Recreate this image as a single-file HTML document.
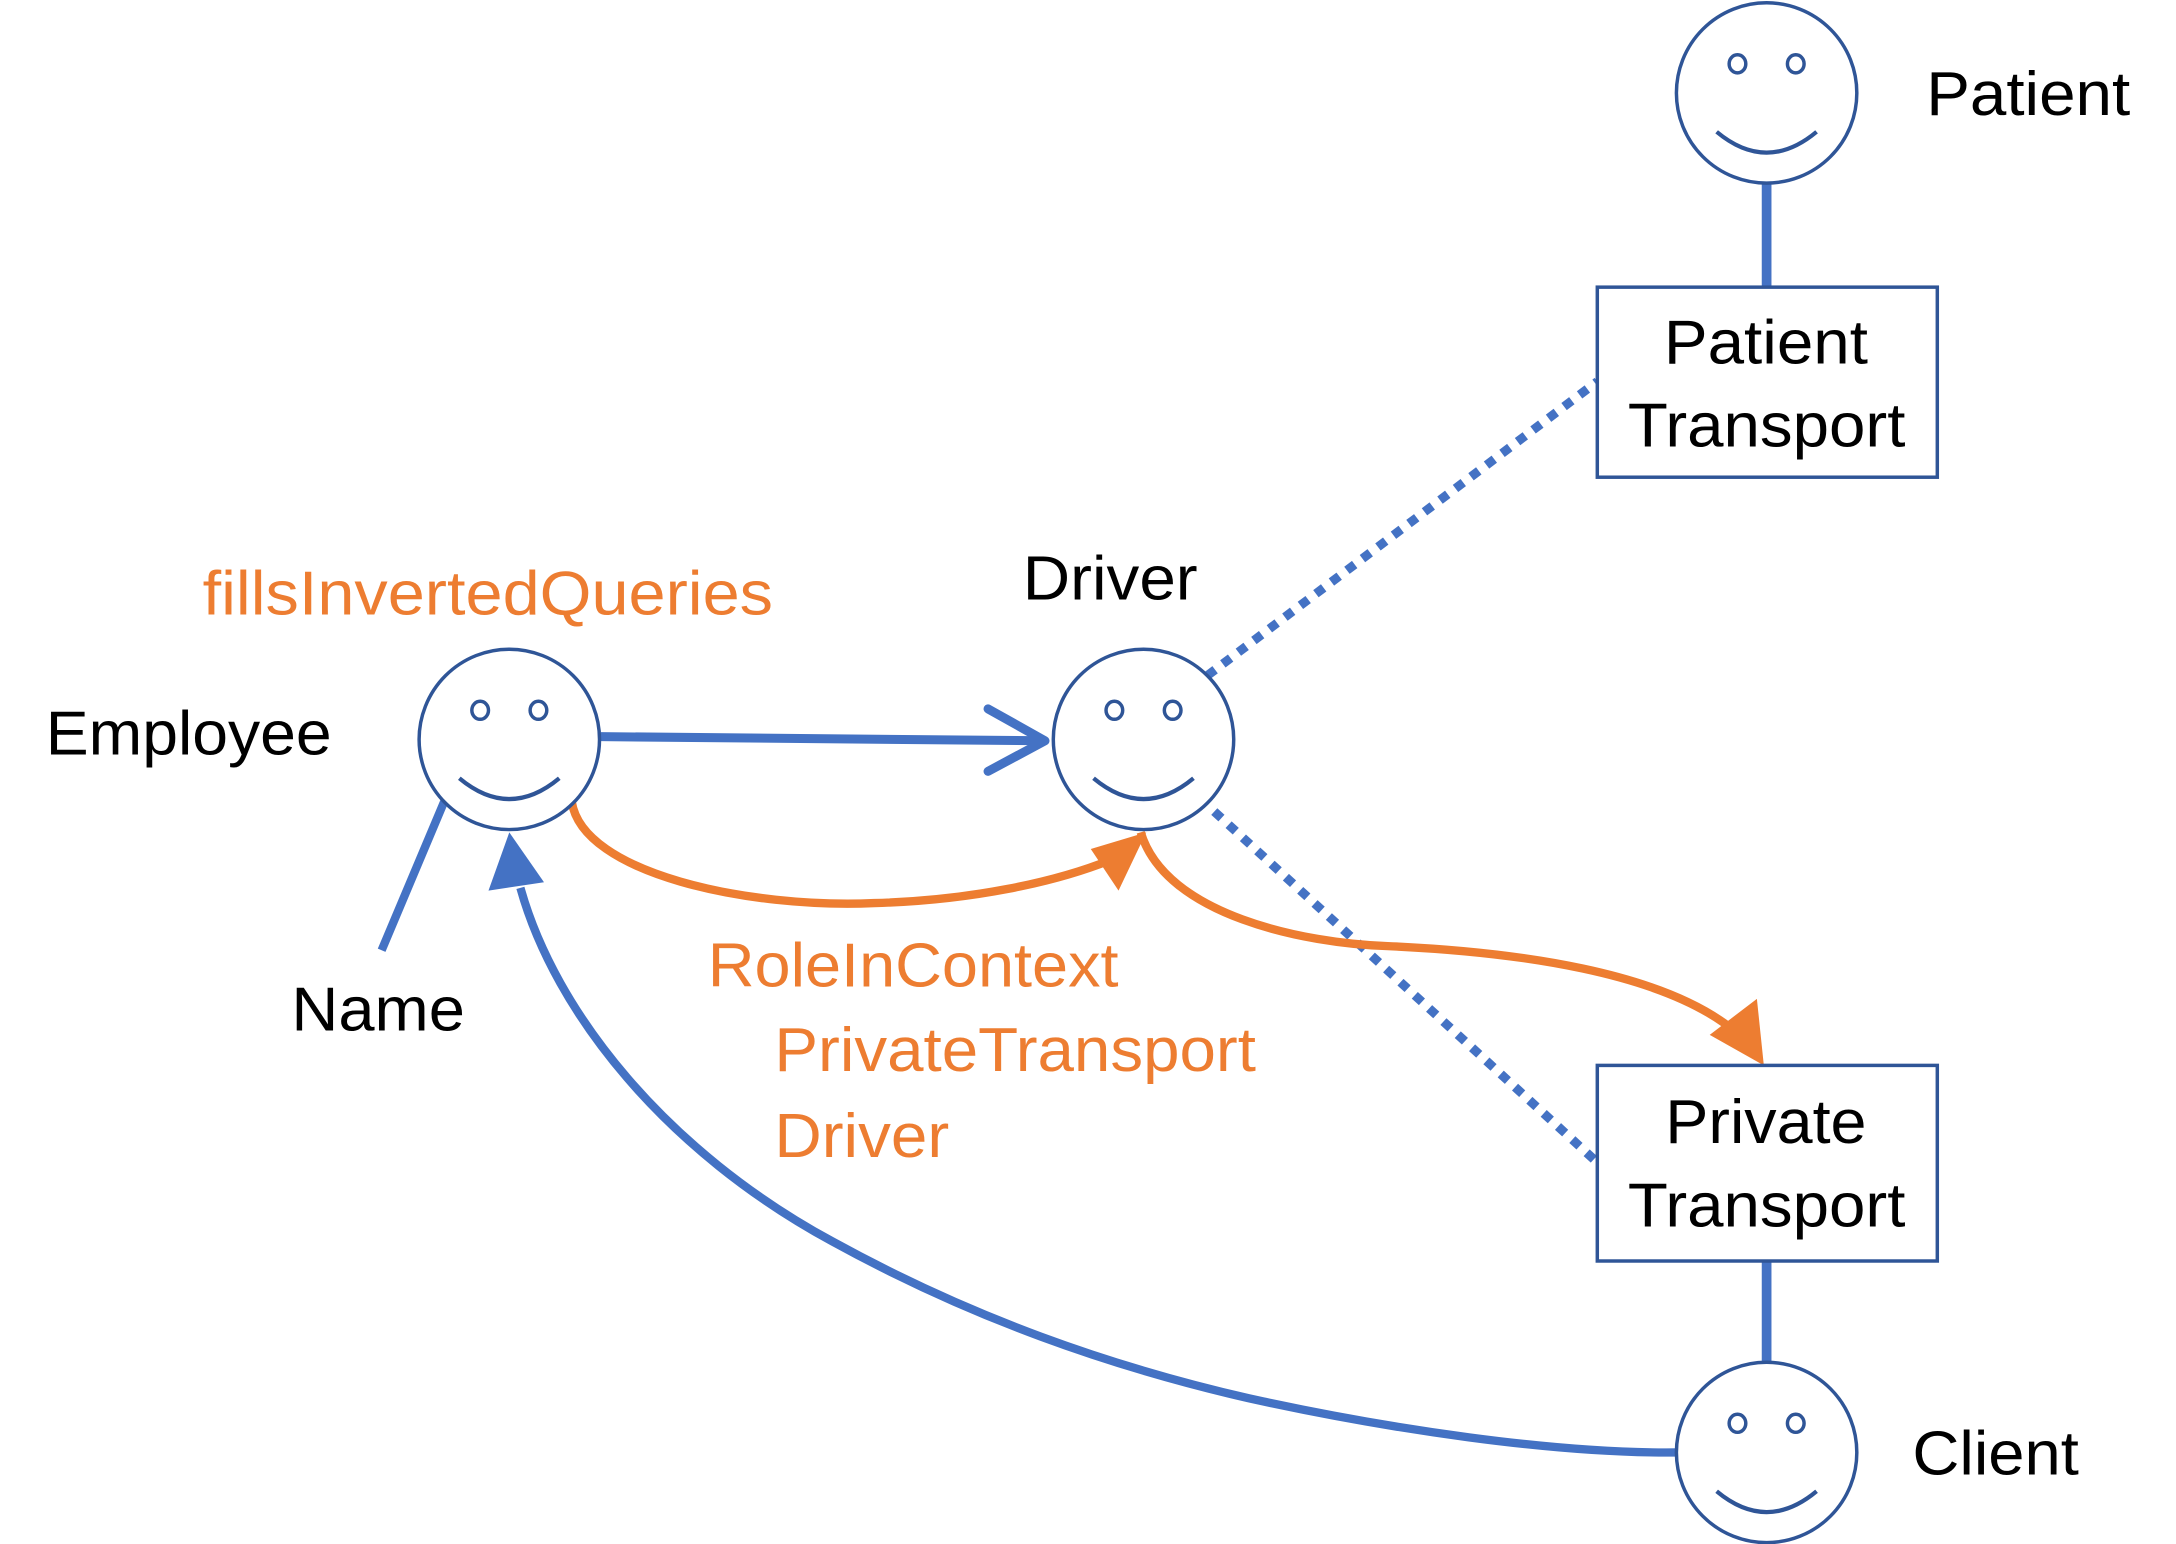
<!DOCTYPE html>
<html><head><meta charset="utf-8"><style>
html,body{margin:0;padding:0;background:#fff;}
svg{display:block;}
text{font-family:"Liberation Sans",sans-serif;font-size:45px;}
.b{fill:#000;} .o{fill:#ED7D31;}
</style></head><body>
<svg width="2176" height="1544" viewBox="0 0 1568 1113" preserveAspectRatio="none" xmlns="http://www.w3.org/2000/svg">
<defs>
<g id="face">
<circle cx="0" cy="0" r="65" fill="#fff" stroke="#2F5597" stroke-width="2.5"/>
<ellipse cx="-21" cy="-21" rx="6" ry="6.5" fill="none" stroke="#2F5597" stroke-width="2.5"/>
<ellipse cx="21" cy="-21" rx="6" ry="6.5" fill="none" stroke="#2F5597" stroke-width="2.5"/>
<path d="M-36,28 Q0,58 36,28" fill="none" stroke="#2F5597" stroke-width="3"/>
</g>
</defs>
<line x1="1273" y1="132" x2="1273" y2="207" stroke="#4472C4" stroke-width="7"/>
<line x1="1273" y1="909" x2="1273" y2="983" stroke="#4472C4" stroke-width="7"/>
<line x1="870" y1="487" x2="1151" y2="275" stroke="#4472C4" stroke-width="6.5" stroke-dasharray="7,7"/>
<line x1="875" y1="585" x2="1151" y2="838" stroke="#4472C4" stroke-width="6.5" stroke-dasharray="7,7"/>
<line x1="433" y1="531" x2="753" y2="534" stroke="#4472C4" stroke-width="6.5"/>
<polyline points="712,511 753,534 712,556" fill="none" stroke="#4472C4" stroke-width="6.5" stroke-linecap="round" stroke-linejoin="round"/>
<line x1="320" y1="578" x2="275" y2="685" stroke="#4472C4" stroke-width="6"/>
<path d="M1208,1047 C1120,1048 1000,1030 900,1008 C800,985 700,950 600,895 C480,830 400,730 375,640" fill="none" stroke="#4472C4" stroke-width="6"/>
<polygon points="367,600 352,642 392,636" fill="#4472C4"/>
<path d="M412,578 C420,630 540,655 630,651 C700,649 760,636 800,620" fill="none" stroke="#ED7D31" stroke-width="6"/>
<polygon points="826,600 786,612 806,642" fill="#ED7D31"/>
<path d="M822,600 C840,660 940,680 1000,682 C1090,686 1200,700 1252,745" fill="none" stroke="#ED7D31" stroke-width="6"/>
<polygon points="1271,768 1266,720 1232,746" fill="#ED7D31"/>
<rect x="1151" y="207" width="245" height="137" fill="#fff" stroke="#2F5597" stroke-width="2.5"/>
<rect x="1151" y="768" width="245" height="141" fill="#fff" stroke="#2F5597" stroke-width="2.5"/>
<use href="#face" x="1273" y="67"/>
<use href="#face" x="824" y="533"/>
<use href="#face" x="367" y="533"/>
<use href="#face" x="1273" y="1047"/>
<text class="b" x="1388" y="83" textLength="147" lengthAdjust="spacingAndGlyphs">Patient</text>
<text class="b" x="1199" y="262" textLength="147" lengthAdjust="spacingAndGlyphs">Patient</text>
<text class="b" x="1173" y="322" textLength="200" lengthAdjust="spacingAndGlyphs">Transport</text>
<text class="b" x="1200" y="824" textLength="145" lengthAdjust="spacingAndGlyphs">Private</text>
<text class="b" x="1173" y="884" textLength="200" lengthAdjust="spacingAndGlyphs">Transport</text>
<text class="b" x="737" y="432" textLength="126" lengthAdjust="spacingAndGlyphs">Driver</text>
<text class="b" x="33" y="544" textLength="206" lengthAdjust="spacingAndGlyphs">Employee</text>
<text class="b" x="210" y="743" textLength="125" lengthAdjust="spacingAndGlyphs">Name</text>
<text class="b" x="1378" y="1063" textLength="120" lengthAdjust="spacingAndGlyphs">Client</text>
<text class="o" x="146" y="443" textLength="411" lengthAdjust="spacingAndGlyphs">fillsInvertedQueries</text>
<text class="o" x="510" y="711" textLength="296" lengthAdjust="spacingAndGlyphs">RoleInContext</text>
<text class="o" x="558" y="772" textLength="347" lengthAdjust="spacingAndGlyphs">PrivateTransport</text>
<text class="o" x="558" y="834" textLength="126" lengthAdjust="spacingAndGlyphs">Driver</text>
</svg>
</body></html>
